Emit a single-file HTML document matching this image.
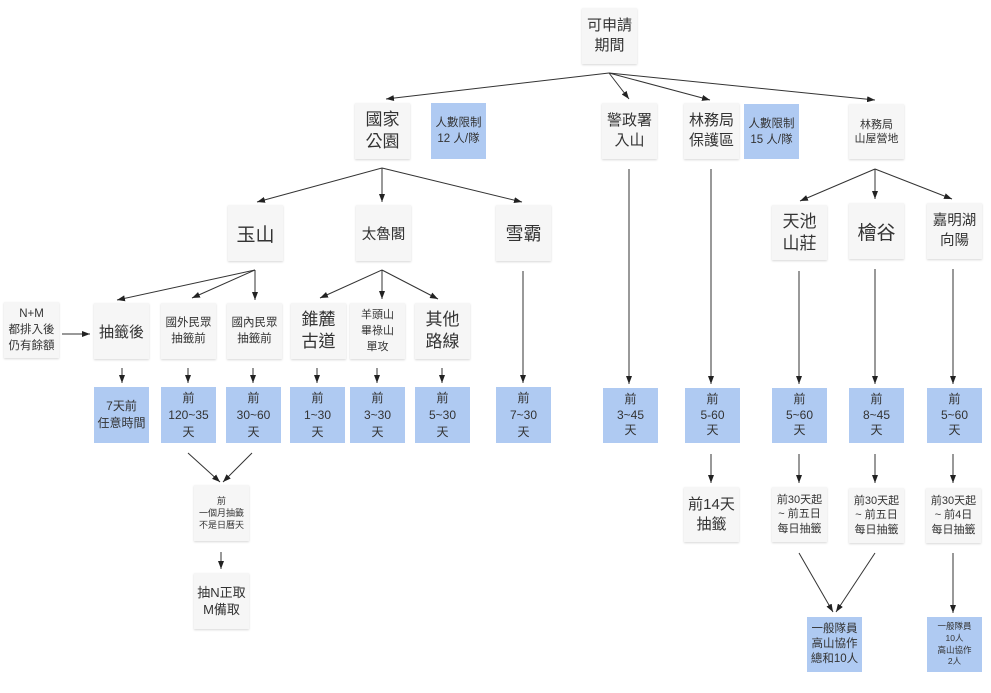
<!DOCTYPE html>
<html><head><meta charset="utf-8">
<style>
html,body{margin:0;padding:0;background:#fff;}
body{width:991px;height:693px;position:relative;overflow:hidden;font-family:"Liberation Sans","Noto Sans CJK TC",sans-serif;color:#333;}
.b{position:absolute;width:55px;height:56px;background:#f6f6f6;box-shadow:0 1px 2px rgba(0,0,0,0.16);display:flex;align-items:center;justify-content:center;text-align:center;white-space:nowrap;}
.u{background:#afcaf2;box-shadow:none;}
svg{position:absolute;left:0;top:0;}
</style></head><body>
<svg width="991" height="693" viewBox="0 0 991 693">
<defs><marker id="a" markerWidth="8" markerHeight="6" refX="8" refY="3" orient="auto" markerUnits="userSpaceOnUse"><path d="M0,0 L8,3 L0,6 z" fill="#222"/></marker></defs>
<g stroke="#333" stroke-width="1" fill="none" marker-end="url(#a)">
<line x1="609" y1="73" x2="386" y2="99"/>
<line x1="609" y1="73" x2="629" y2="99"/>
<line x1="609" y1="73" x2="710" y2="100"/>
<line x1="609" y1="73" x2="875" y2="100"/>
<line x1="382" y1="168" x2="257" y2="202"/>
<line x1="382" y1="168" x2="382" y2="202"/>
<line x1="382" y1="168" x2="522" y2="202"/>
<line x1="255" y1="270" x2="117" y2="300"/>
<line x1="255" y1="270" x2="192" y2="298"/>
<line x1="255" y1="270" x2="255" y2="300"/>
<line x1="382" y1="270" x2="320" y2="298"/>
<line x1="382" y1="270" x2="382" y2="299"/>
<line x1="382" y1="270" x2="438" y2="299"/>
<line x1="875" y1="169" x2="800" y2="201"/>
<line x1="875" y1="169" x2="875" y2="199"/>
<line x1="875" y1="169" x2="952" y2="199"/>
<line x1="62" y1="334" x2="90" y2="334"/>
<line x1="122" y1="368" x2="122" y2="383"/>
<line x1="188" y1="368" x2="188" y2="383"/>
<line x1="253" y1="368" x2="253" y2="383"/>
<line x1="317" y1="368" x2="317" y2="383"/>
<line x1="377" y1="368" x2="377" y2="383"/>
<line x1="442" y1="368" x2="442" y2="383"/>
<line x1="523" y1="271" x2="523" y2="383"/>
<line x1="629" y1="169" x2="629" y2="384"/>
<line x1="711" y1="169" x2="711" y2="384"/>
<line x1="799" y1="271" x2="799" y2="384"/>
<line x1="875" y1="269" x2="875" y2="384"/>
<line x1="953" y1="269" x2="953" y2="384"/>
<line x1="711" y1="454" x2="711" y2="483"/>
<line x1="799" y1="454" x2="799" y2="483"/>
<line x1="875" y1="454" x2="875" y2="483"/>
<line x1="953" y1="454" x2="953" y2="483"/>
<line x1="188" y1="453" x2="220" y2="482"/>
<line x1="252" y1="453" x2="223" y2="482"/>
<line x1="221" y1="552" x2="221" y2="569"/>
<line x1="799" y1="553" x2="833" y2="612"/>
<line x1="875" y1="553" x2="836" y2="612"/>
<line x1="953" y1="553" x2="953" y2="613"/>
</g>
</svg>

<div class="b" style="left:582px;top:8px;font-size:15px;line-height:20px;">可申請<br>期間</div>

<div class="b" style="left:355px;top:103px;font-size:17px;line-height:22px;">國家<br>公園</div>
<div class="b u" style="left:431px;top:103px;font-size:11.5px;line-height:16px;">人數限制<br>12 人/隊</div>
<div class="b" style="left:602px;top:103px;font-size:15px;line-height:20px;">警政署<br>入山</div>
<div class="b" style="left:684px;top:103px;font-size:15px;line-height:20px;">林務局<br>保護區</div>
<div class="b u" style="left:744px;top:104px;height:55px;font-size:11.5px;line-height:16px;">人數限制<br>15 人/隊</div>
<div class="b" style="left:849px;top:104px;height:55px;font-size:11px;line-height:14px;">林務局<br>山屋營地</div>

<div class="b" style="left:228px;top:205px;font-size:19px;">玉山</div>
<div class="b" style="left:356px;top:205px;font-size:14.5px;">太魯閣</div>
<div class="b" style="left:496px;top:205px;font-size:18px;">雪霸</div>
<div class="b" style="left:772px;top:205px;height:55px;font-size:17px;line-height:22px;">天池<br>山莊</div>
<div class="b" style="left:849px;top:203px;font-size:19px;">檜谷</div>
<div class="b" style="left:927px;top:203px;font-size:14.5px;line-height:20px;">嘉明湖<br>向陽</div>

<div class="b" style="left:4px;top:302px;font-size:11.5px;line-height:16px;">N+M<br>都排入後<br>仍有餘額</div>
<div class="b" style="left:94px;top:303px;font-size:15px;">抽籤後</div>
<div class="b" style="left:161px;top:303px;font-size:11.5px;line-height:16.5px;">國外民眾<br>抽籤前</div>
<div class="b" style="left:227px;top:303px;font-size:11.5px;line-height:16.5px;">國內民眾<br>抽籤前</div>
<div class="b" style="left:291px;top:303px;font-size:17px;line-height:22.5px;">錐麓<br>古道</div>
<div class="b" style="left:350px;top:303px;font-size:11px;line-height:16px;">羊頭山<br>畢祿山<br>單攻</div>
<div class="b" style="left:415px;top:303px;font-size:17px;line-height:22.5px;">其他<br>路線</div>

<div class="b u" style="left:94px;top:387px;font-size:12px;line-height:17.5px;">7天前<br>任意時間</div>
<div class="b u" style="left:161px;top:387px;font-size:12px;line-height:17px;">前<br>120~35<br>天</div>
<div class="b u" style="left:226px;top:387px;font-size:12px;line-height:17px;">前<br>30~60<br>天</div>
<div class="b u" style="left:290px;top:387px;font-size:12px;line-height:17px;">前<br>1~30<br>天</div>
<div class="b u" style="left:350px;top:387px;font-size:12px;line-height:17px;">前<br>3~30<br>天</div>
<div class="b u" style="left:415px;top:387px;font-size:12px;line-height:17px;">前<br>5~30<br>天</div>
<div class="b u" style="left:496px;top:387px;font-size:12px;line-height:17px;">前<br>7~30<br>天</div>
<div class="b u" style="left:603px;top:388px;height:55px;font-size:12px;line-height:15.5px;">前<br>3~45<br>天</div>
<div class="b u" style="left:685px;top:388px;height:55px;font-size:12px;line-height:15.5px;">前<br>5-60<br>天</div>
<div class="b u" style="left:772px;top:388px;height:55px;font-size:12px;line-height:15.5px;">前<br>5~60<br>天</div>
<div class="b u" style="left:849px;top:388px;height:55px;font-size:12px;line-height:15.5px;">前<br>8~45<br>天</div>
<div class="b u" style="left:927px;top:388px;height:55px;font-size:12px;line-height:15.5px;">前<br>5~60<br>天</div>

<div class="b" style="left:194px;top:485px;font-size:9px;line-height:12px;">前<br>一個月抽籤<br>不是日曆天</div>
<div class="b" style="left:194px;top:573px;font-size:13px;line-height:17px;">抽N正取<br>M備取</div>

<div class="b" style="left:684px;top:487px;height:55px;font-size:15px;line-height:20px;">前14天<br>抽籤</div>
<div class="b" style="left:772px;top:487px;height:55px;font-size:11px;line-height:14.5px;">前30天起<br>~ 前五日<br>每日抽籤</div>
<div class="b" style="left:849px;top:488px;height:55px;font-size:11px;line-height:14.5px;">前30天起<br>~ 前五日<br>每日抽籤</div>
<div class="b" style="left:926px;top:488px;height:55px;font-size:11px;line-height:14.5px;">前30天起<br>~ 前4日<br>每日抽籤</div>

<div class="b u" style="left:807px;top:617px;height:55px;font-size:11.5px;line-height:15px;">一般隊員<br>高山協作<br>總和10人</div>
<div class="b u" style="left:927px;top:617px;height:55px;font-size:8.5px;line-height:11.7px;">一般隊員<br>10人<br>高山協作<br>2人</div>
</body></html>
